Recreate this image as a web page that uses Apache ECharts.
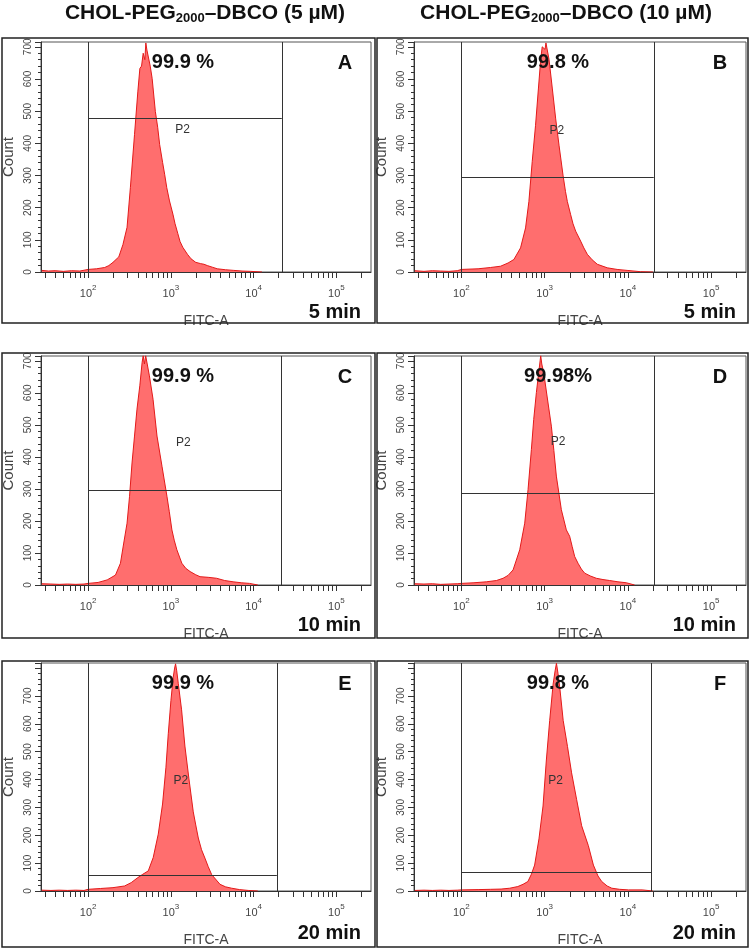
<!DOCTYPE html>
<html>
<head>
<meta charset="utf-8">
<script src="https://cdn.jsdelivr.net/npm/echarts@6/dist/echarts.min.js"></script>
<style>
  html, body { margin: 0; padding: 0; background: #fff; }
  #main { width: 750px; height: 948px; }
</style>
</head>
<body>
<div id="main"></div>
<script>
// FITC-A axis is in decades (log10 of intensity), counts on y
const X_MIN = 1.43;
const X_MAX = 5.418;
const xLabelDecades = [2, 3, 4, 5];
const yLabelValues = [0, 100, 200, 300, 400, 500, 600, 700];
const columnTitles = ['5 µM', '10 µM'];

// histograms: [log10 FITC-A, count]
const histA = [[1.44,5],[1.52,3],[1.6,4],[1.7,2],[1.8,4],[1.9,3],[2.0,8],[2.1,10],[2.2,14],[2.25,20],[2.3,30],[2.37,47],[2.42,85],[2.47,139],[2.51,262],[2.56,427],[2.6,560],[2.625,633],[2.645,640],[2.665,680],[2.685,660],[2.697,712],[2.71,690],[2.725,684],[2.75,640],[2.773,602],[2.812,499],[2.84,450],[2.864,396],[2.9,340],[2.924,304],[2.95,262],[2.983,221],[3.024,180],[3.05,150],[3.084,119],[3.11,95],[3.143,77],[3.2,55],[3.243,41],[3.3,30],[3.36,26],[3.4,24],[3.44,20],[3.5,15],[3.56,10],[3.66,7],[3.76,5],[3.86,3],[3.96,2],[4.1,0]];
const histB = [[1.44,4],[1.55,2],[1.65,4],[1.75,3],[1.85,2],[1.95,4],[2.0,8],[2.2,10],[2.35,14],[2.47,18],[2.56,28],[2.63,39],[2.71,75],[2.77,137],[2.81,219],[2.85,343],[2.89,456],[2.924,569],[2.952,661],[2.97,700],[2.98,703],[3.004,692],[3.015,712],[3.024,708],[3.052,661],[3.092,569],[3.132,476],[3.172,394],[3.22,301],[3.25,250],[3.272,219],[3.312,178],[3.34,150],[3.372,127],[3.432,96],[3.47,75],[3.512,55],[3.57,38],[3.632,24],[3.752,13],[3.87,8],[3.99,5],[4.15,1],[4.3,0]];
const histC = [[1.44,4],[1.55,3],[1.65,2],[1.75,3],[1.85,2],[1.95,3],[2.0,5],[2.12,8],[2.23,16],[2.33,31],[2.39,68],[2.43,131],[2.47,193],[2.5,277],[2.53,381],[2.56,465],[2.59,549],[2.624,622],[2.652,695],[2.665,716],[2.68,690],[2.695,716],[2.712,716],[2.74,653],[2.784,580],[2.832,465],[2.892,371],[2.952,277],[2.98,230],[3.012,172],[3.04,140],[3.072,110],[3.132,68],[3.18,52],[3.232,42],[3.3,32],[3.352,26],[3.45,24],[3.552,21],[3.65,14],[3.752,10],[3.85,7],[3.95,5],[4.05,0]];
const histD = [[1.44,4],[1.55,3],[1.65,4],[1.75,2],[1.85,3],[1.95,4],[2.0,5],[2.15,7],[2.3,10],[2.42,14],[2.5,21],[2.56,30],[2.62,47],[2.7,110],[2.76,193],[2.8,298],[2.84,423],[2.868,517],[2.9,601],[2.928,663],[2.945,700],[2.952,716],[2.965,690],[2.988,663],[3.028,590],[3.08,496],[3.11,420],[3.14,340],[3.2,235],[3.26,172],[3.3,152],[3.33,120],[3.36,89],[3.4,68],[3.44,50],[3.48,37],[3.55,28],[3.62,21],[3.7,17],[3.78,14],[3.88,10],[3.98,7],[4.08,0]];
const histE = [[1.44,3],[1.55,2],[1.65,3],[1.75,2],[1.85,3],[1.95,2],[2.0,6],[2.15,9],[2.3,12],[2.44,18],[2.52,30],[2.6,48],[2.66,60],[2.726,72],[2.786,120],[2.847,204],[2.899,312],[2.94,444],[2.968,564],[3.0,683],[3.028,767],[3.045,800],[3.056,815],[3.07,790],[3.089,745],[3.129,650],[3.169,520],[3.218,402],[3.27,284],[3.3,237],[3.331,190],[3.37,148],[3.411,118],[3.45,88],[3.492,59],[3.593,24],[3.66,15],[3.734,10],[3.83,5],[3.935,2],[4.05,0]];
const histF = [[1.44,2],[1.55,3],[1.65,2],[1.75,3],[1.85,2],[1.95,3],[2.0,4],[2.2,5],[2.35,6],[2.476,7],[2.58,10],[2.677,16],[2.74,24],[2.798,34],[2.84,60],[2.879,93],[2.931,187],[2.98,305],[3.02,470],[3.06,612],[3.101,742],[3.125,790],[3.141,817],[3.16,780],[3.181,730],[3.222,612],[3.274,518],[3.323,424],[3.383,329],[3.444,234],[3.524,163],[3.585,93],[3.64,54],[3.685,34],[3.75,18],[3.806,10],[3.9,6],[4.008,4],[4.17,4],[4.3,0]];

// gates: [low, high, bar height]
const gateA = [2.0, 4.34, 477];
const gateB = [2.0, 4.31, 294];
const gateC = [2.0, 4.33, 297];
const gateD = [2.0, 4.31, 288];
const gateE = [2.0, 4.28, 56];
const gateF = [2.0, 4.28, 67];

const percents = ['99.9 %', '99.8 %', '99.9 %', '99.98%', '99.9 %', '99.8 %'];
const letters = ['A', 'B', 'C', 'D', 'E', 'F'];
const times = ['5 min', '5 min', '10 min', '10 min', '20 min', '20 min'];
const p2Pos = [[3.14, 443], [3.145, 440], [3.15, 445], [3.16, 449], [3.12, 397], [3.13, 394]];
const yMaxByRow = [715, 715, 818];

// layout (px)
const COLS = [{ l: 39, r: 371, boxL: 2, boxR: 375, mid: 200 }, { l: 414, r: 746, boxL: 377, boxR: 748, mid: 561 }];
const ROWS = [{ t: 42, b: 272, boxT: 38, boxB: 323 }, { t: 356, b: 585, boxT: 353, boxB: 638 }, { t: 663, b: 893, boxT: 661, boxB: 947 }];

const hists = [histA, histB, histC, histD, histE, histF];
const gates = [gateA, gateB, gateC, gateD, gateE, gateF];

// log minor ticks k*10^n inside the axis range
const xTickVals = [];
for (let n = 1; n <= 5; n++) {
  for (let k = 1; k <= 9; k++) {
    const v = Math.log10(k * Math.pow(10, n));
    if (v > X_MIN && v < X_MAX) xTickVals.push(v);
  }
}

const axisFont = "'Liberation Sans Narrow', 'Liberation Sans', Arial, sans-serif";
const boldFont = "'Liberation Sans', Arial, sans-serif";

const grids = [], xAxes = [], yAxes = [], series = [], graphics = [];

hists.forEach((hist, i) => {
  const c = COLS[i % 2], r = ROWS[Math.floor(i / 2)];
  const g = gates[i];
  grids.push({
    left: c.l, top: r.t, width: c.r - c.l, height: r.b - r.t,
    show: true, borderColor: '#555', borderWidth: 1
  });
  xAxes.push({
    gridIndex: i, type: 'value', min: X_MIN, max: X_MAX,
    name: 'FITC-A', nameLocation: 'middle', nameGap: 42,
    nameTextStyle: { fontFamily: axisFont, fontSize: 14, color: '#444' },
    axisLine: { show: true, lineStyle: { color: '#333', width: 1 } },
    axisTick: { show: true, customValues: xTickVals, length: 6, lineStyle: { color: '#333' } },
    axisLabel: {
      customValues: xLabelDecades, margin: 12,
      formatter: v => '{b|10}{s|' + v + '}',
      rich: {
        b: { fontFamily: axisFont, fontSize: 11, color: '#444', verticalAlign: 'bottom', lineHeight: 15 },
        s: { fontFamily: axisFont, fontSize: 8, color: '#444', verticalAlign: 'top', lineHeight: 15 }
      }
    },
    splitLine: { show: false }
  });
  yAxes.push({
    gridIndex: i, type: 'value', min: 0, max: yMaxByRow[Math.floor(i / 2)], interval: 100,
    name: 'Count', nameLocation: 'middle', nameGap: 25,
    nameTextStyle: { fontFamily: axisFont, fontSize: 15, color: '#444' },
    axisLine: { show: true, lineStyle: { color: '#333', width: 1 } },
    axisTick: { show: true, length: 6, lineStyle: { color: '#333' } },
    minorTick: { show: true, splitNumber: 5, length: 3, lineStyle: { color: '#333' } },
    axisLabel: { customValues: yLabelValues, rotate: 90, margin: 8, fontFamily: axisFont, fontSize: 10, color: '#444' },
    splitLine: { show: false }
  });
  series.push({
    type: 'line', xAxisIndex: i, yAxisIndex: i, data: hist,
    symbol: 'none', z: 2,
    lineStyle: { color: '#e31a1a', width: 1 },
    areaStyle: { color: '#ff6e6e', opacity: 1 },
    markLine: {
      silent: true, symbol: 'none', animation: false,
      label: { show: false },
      lineStyle: { color: '#333', width: 1, type: 'solid' },
      data: [
        { xAxis: g[0] }, { xAxis: g[1] },
        [{ coord: [g[0], g[2]] }, { coord: [g[1], g[2]] }]
      ]
    },
    markPoint: {
      silent: true, animation: false, symbol: 'rect', symbolSize: 1,
      itemStyle: { color: 'rgba(0,0,0,0)' },
      label: { show: true, position: 'inside', formatter: 'P2', fontFamily: axisFont, fontSize: 12, color: '#333' },
      data: [{ coord: p2Pos[i] }]
    }
  });

  // outer panel frame
  graphics.push({
    type: 'rect', silent: true, z: 100,
    shape: { x: c.boxL, y: r.boxT, width: c.boxR - c.boxL, height: r.boxB - r.boxT },
    style: { fill: null, stroke: '#222', lineWidth: 1.5 }
  });
  graphics.push({
    type: 'text', z: 100, x: c.l + 144, y: r.t + 20,
    style: { text: percents[i], font: 'bold 20px ' + boldFont, fill: '#111', align: 'center', verticalAlign: 'middle' }
  });
  graphics.push({
    type: 'text', z: 100, x: c.r - 26, y: r.t + 21,
    style: { text: letters[i], font: 'bold 20px ' + boldFont, fill: '#111', align: 'center', verticalAlign: 'middle' }
  });
  graphics.push({
    type: 'text', z: 100, x: c.r - 10, y: r.b + 40,
    style: { text: times[i], font: 'bold 20px ' + boldFont, fill: '#111', align: 'right', verticalAlign: 'middle' }
  });
});

const titles = columnTitles.map((conc, j) => ({
  text: '{t|CHOL-PEG}{s|2000}{t|–DBCO (' + conc + ')}',
  left: COLS[j].mid, top: -4, textAlign: 'center',
  textStyle: {
    rich: {
      t: { fontFamily: boldFont, fontWeight: 'bold', fontSize: 21, color: '#111', lineHeight: 24, verticalAlign: 'middle' },
      s: { fontFamily: boldFont, fontWeight: 'bold', fontSize: 13, color: '#111', lineHeight: 24, verticalAlign: 'bottom', padding: [10, 0, 0, 0] }
    }
  }
}));

const chart = echarts.init(document.getElementById('main'), null, { renderer: 'canvas' });
chart.setOption({
  animation: false,
  backgroundColor: '#fff',
  title: titles,
  grid: grids,
  xAxis: xAxes,
  yAxis: yAxes,
  series: series,
  graphic: graphics
});
</script>
</body>
</html>
